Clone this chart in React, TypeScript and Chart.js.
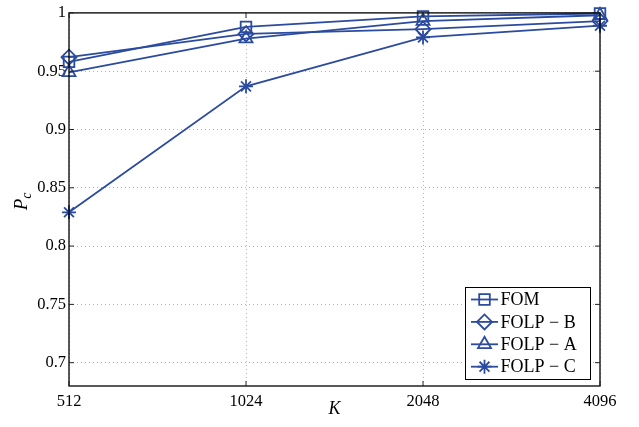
import React, { useEffect, useRef } from "react";
import { Chart, registerables } from "chart.js";
import { drawPoint } from "chart.js/helpers";

Chart.register(...registerables);

// Block length K (log2-spaced categories)
const CATEGORIES = ["512", "1024", "2048", "4096"];

// Probability of correct detection P_c per method
const FOM = [0.958, 0.988, 0.997, 0.9995];
const FOLP_B = [0.962, 0.982, 0.986, 0.993];
const FOLP_A = [0.949, 0.978, 0.993, 0.998];
const FOLP_C = [0.829, 0.937, 0.979, 0.989];

const SERIES_LABELS = ["FOM", "FOLP \u2212 B", "FOLP \u2212 A", "FOLP \u2212 C"];

const Y_TICKS = [0.7, 0.75, 0.8, 0.85, 0.9, 0.95, 1];
const Y_TICK_LABELS = ["0.7", "0.75", "0.8", "0.85", "0.9", "0.95", "1"];

const BLUE = "#2b4b9f";
const FONT = "'Liberation Serif', 'DejaVu Serif', serif";

// Box, inward ticks, axis titles and in-plot legend (MATLAB look)
const matlabFrame = {
  id: "matlabFrame",
  afterDraw(chart: any) {
    const { ctx, chartArea } = chart;
    const { left, right, top, bottom } = chartArea;
    const xs = chart.scales.x;
    const ys = chart.scales.y;
    ctx.save();

    // Frame
    ctx.strokeStyle = "#000";
    ctx.lineWidth = 1.3;
    ctx.setLineDash([]);
    ctx.strokeRect(left, top, right - left, bottom - top);

    // Inward tick marks
    const tl = 5;
    ctx.lineWidth = 1;
    ctx.strokeStyle = "#222";
    ctx.beginPath();
    xs.ticks.forEach((_t: any, i: number) => {
      const px = xs.getPixelForTick(i);
      ctx.moveTo(px, bottom);
      ctx.lineTo(px, bottom - tl);
      ctx.moveTo(px, top);
      ctx.lineTo(px, top + tl);
    });
    ys.ticks.forEach((_t: any, i: number) => {
      const py = ys.getPixelForTick(i);
      ctx.moveTo(left, py);
      ctx.lineTo(left + tl, py);
      ctx.moveTo(right, py);
      ctx.lineTo(right - tl, py);
    });
    ctx.stroke();

    // X title: K
    ctx.fillStyle = "#000";
    ctx.font = `italic 18px ${FONT}`;
    ctx.textAlign = "center";
    ctx.textBaseline = "alphabetic";
    ctx.fillText("K", (left + right) / 2, 414);

    // Y title: P_c (rotated)
    ctx.save();
    ctx.translate(27, (top + bottom) / 2 + 2);
    ctx.rotate(-Math.PI / 2);
    ctx.font = `italic 19px ${FONT}`;
    ctx.textAlign = "left";
    const pw = ctx.measureText("P").width;
    ctx.font = `italic 14px ${FONT}`;
    const cw = ctx.measureText("c").width;
    const startX = -(pw + cw) / 2;
    ctx.font = `italic 19px ${FONT}`;
    ctx.fillText("P", startX, 0);
    ctx.font = `italic 14px ${FONT}`;
    ctx.fillText("c", startX + pw, 4);
    ctx.restore();

    // Legend
    const bx = 465.5, by = 287.5, bw = 125, bh = 92;
    ctx.fillStyle = "#fff";
    ctx.fillRect(bx, by, bw, bh);
    ctx.strokeStyle = "#000";
    ctx.lineWidth = 1;
    ctx.strokeRect(bx, by, bw, bh);
    ctx.font = `18px ${FONT}`;
    ctx.textAlign = "left";
    ctx.textBaseline = "middle";
    chart.data.datasets.forEach((ds: any, i: number) => {
      const cy = 299.5 + i * 22.4;
      ctx.strokeStyle = ds.borderColor;
      ctx.lineWidth = ds.borderWidth;
      ctx.beginPath();
      ctx.moveTo(471, cy);
      ctx.lineTo(498, cy);
      ctx.stroke();
      ctx.fillStyle = "rgba(0,0,0,0)";
      ctx.strokeStyle = ds.pointBorderColor;
      ctx.lineWidth = ds.pointBorderWidth;
      drawPoint(ctx, {
        pointStyle: ds.pointStyle,
        radius: ds.pointRadius,
        rotation: 0,
        borderWidth: ds.pointBorderWidth,
      }, 484.5, cy);
      ctx.fillStyle = "#000";
      ctx.fillText(ds.label, 500.5, cy + 1);
    });

    ctx.restore();
  },
};

function makeDataset(label: string, data: number[], style: string, radius: number) {
  return {
    label,
    data,
    borderColor: BLUE,
    backgroundColor: "rgba(0,0,0,0)",
    borderWidth: 1.8,
    pointStyle: style,
    pointRadius: radius,
    pointHoverRadius: radius,
    pointBorderWidth: 1.8,
    pointBorderColor: BLUE,
    pointBackgroundColor: "rgba(0,0,0,0)",
    tension: 0,
    fill: false,
    clip: false,
  };
}

export default function App() {
  const canvasRef = useRef<HTMLCanvasElement | null>(null);

  useEffect(() => {
    if (!canvasRef.current) return;
    const chart = new Chart(canvasRef.current, {
      type: "line",
      data: {
        labels: CATEGORIES,
        datasets: [
          makeDataset(SERIES_LABELS[0], FOM, "rect", 7.5),
          makeDataset(SERIES_LABELS[1], FOLP_B, "rectRot", 7.5),
          makeDataset(SERIES_LABELS[2], FOLP_A, "triangle", 7.5),
          makeDataset(SERIES_LABELS[3], FOLP_C, "star", 7),
        ],
      },
      options: {
        animation: false,
        responsive: true,
        maintainAspectRatio: false,
        layout: { padding: { left: 0, top: 7, right: 39, bottom: 0 } },
        plugins: {
          legend: { display: false },
          tooltip: { enabled: false },
          title: { display: false },
        },
        scales: {
          x: {
            type: "category",
            offset: false,
            grid: {
              color: "#b0b0b0",
              lineWidth: 1,
              drawTicks: false,
            },
            border: { display: false, dash: [1, 3] },
            ticks: {
              color: "#000",
              font: { family: FONT, size: 16.5 },
              padding: 6,
              maxRotation: 0,
              autoSkip: false,
            },
            afterFit: (scale: any) => {
              scale.height = 41;
            },
          },
          y: {
            type: "linear",
            min: 0.68,
            max: 1,
            grid: {
              color: "#b0b0b0",
              lineWidth: 1,
              drawTicks: false,
            },
            border: { display: false, dash: [1, 3] },
            afterBuildTicks: (scale: any) => {
              scale.ticks = Y_TICKS.map((v) => ({ value: v }));
            },
            ticks: {
              color: "#000",
              font: { family: FONT, size: 16.5 },
              padding: 3,
              callback: (value: any) => {
                const idx = Y_TICKS.findIndex((t) => Math.abs(t - Number(value)) < 1e-9);
                return idx >= 0 ? Y_TICK_LABELS[idx] : "";
              },
            },
            afterFit: (scale: any) => {
              scale.width = 69;
            },
          },
        },
      },
      plugins: [matlabFrame],
    });
    return () => chart.destroy();
  }, []);

  return (
    <div style={{ position: "absolute", left: 0, top: 0, width: 639, height: 427, background: "#fff" }}>
      <canvas ref={canvasRef} />
    </div>
  );
}
